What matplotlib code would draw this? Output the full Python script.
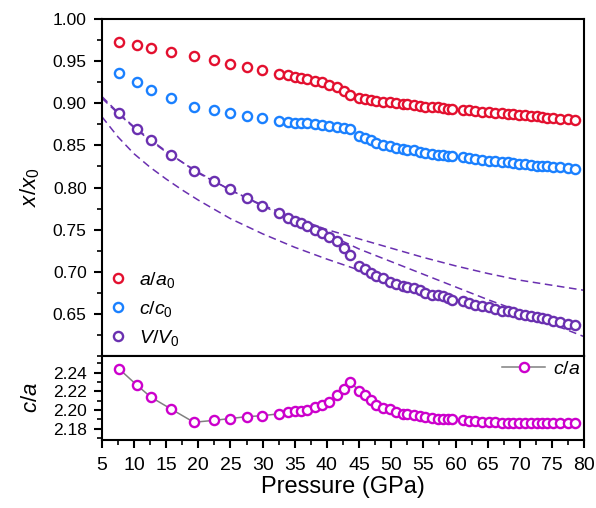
import matplotlib
matplotlib.use("Agg")
import matplotlib.pyplot as plt
from matplotlib.ticker import MultipleLocator, FixedLocator

plt.rcParams['font.family'] = ['Liberation Sans', 'DejaVu Sans']
plt.rcParams['mathtext.fontset'] = 'custom'
plt.rcParams['mathtext.rm'] = 'Liberation Sans'
plt.rcParams['mathtext.it'] = 'Liberation Sans:italic'

# pressure points (GPa)
pressure = [7.7, 10.4, 12.6, 15.8, 19.3, 22.4, 25.0, 27.5, 29.9,
            32.5, 33.9, 35.0, 35.9, 36.9, 38.2, 39.3, 40.4, 41.6, 42.6, 43.6,
            45.0, 45.9, 46.8, 47.7, 48.8, 49.8, 50.8, 51.8, 52.4, 53.5, 54.4, 55.3,
            56.3, 57.2, 58.0, 58.8, 59.5,
            61.2, 62.1, 63.1, 64.1, 65.2, 66.2, 67.2, 68.1, 69.0, 69.9, 70.8,
            71.8, 72.6, 73.4, 74.2, 75.2, 76.3, 77.5, 78.6]

a_ratio = [0.973, 0.969, 0.966, 0.961, 0.956, 0.951, 0.947, 0.943, 0.939,
           0.935, 0.933, 0.931, 0.930, 0.929, 0.927, 0.925, 0.922, 0.919, 0.915, 0.910,
           0.906, 0.905, 0.904, 0.903, 0.902, 0.901, 0.900, 0.899, 0.899, 0.898, 0.897,
           0.896, 0.8955, 0.895, 0.894, 0.8935, 0.893,
           0.892, 0.8915, 0.891, 0.890, 0.8895, 0.889, 0.888, 0.8875, 0.887, 0.8865,
           0.886, 0.885, 0.8845, 0.884, 0.883, 0.882, 0.8815, 0.881, 0.880]

c_ratio = [0.936, 0.925, 0.916, 0.906, 0.896, 0.892, 0.888, 0.885, 0.882,
           0.879, 0.878, 0.877, 0.877, 0.876, 0.875, 0.874, 0.873, 0.872, 0.871, 0.869,
           0.861, 0.859, 0.856, 0.853, 0.851, 0.849, 0.847, 0.846, 0.845, 0.844, 0.842,
           0.841, 0.840, 0.839, 0.838, 0.837, 0.837,
           0.836, 0.835, 0.834, 0.833, 0.832, 0.831, 0.830, 0.830, 0.829, 0.828,
           0.828, 0.827, 0.826, 0.826, 0.825, 0.824, 0.824, 0.823, 0.822]

v_ratio = [0.888, 0.869, 0.856, 0.839, 0.820, 0.808, 0.798, 0.787, 0.778,
           0.770, 0.764, 0.760, 0.758, 0.754, 0.750, 0.746, 0.741, 0.736, 0.728, 0.720,
           0.707, 0.703, 0.699, 0.695, 0.692, 0.688, 0.685, 0.683, 0.682, 0.681, 0.678,
           0.675, 0.673, 0.672, 0.671, 0.669, 0.667,
           0.665, 0.663, 0.661, 0.659, 0.658, 0.656, 0.654, 0.653, 0.652, 0.650,
           0.649, 0.647, 0.646, 0.645, 0.644, 0.642, 0.640, 0.638, 0.637]

c_over_a = [2.244, 2.227, 2.214, 2.201, 2.187, 2.189, 2.191, 2.193, 2.194,
            2.196, 2.198, 2.199, 2.199, 2.200, 2.203, 2.206, 2.209, 2.216, 2.223, 2.230,
            2.221, 2.216, 2.211, 2.206, 2.202, 2.201, 2.198, 2.196, 2.196, 2.195, 2.194,
            2.193, 2.192, 2.191, 2.190, 2.190, 2.190,
            2.189, 2.188, 2.188, 2.187, 2.187, 2.187, 2.186, 2.186, 2.186, 2.186,
            2.186, 2.186, 2.186, 2.186, 2.186, 2.186, 2.186, 2.186, 2.186]

# dashed EOS curves
fit_p = [5, 7.5, 10, 12.5, 15, 17.5, 20, 25, 30, 35, 40, 45, 50, 55, 60, 65, 70, 75, 80]
fit_phase1 = [0.908, 0.889, 0.872, 0.857, 0.843, 0.830, 0.817, 0.797, 0.779, 0.764,
              0.750, 0.739, 0.728, 0.717, 0.707, 0.698, 0.690, 0.684, 0.678]
fit_phase2 = [0.884, 0.860, 0.840, 0.824, 0.810, 0.797, 0.785, 0.763, 0.745, 0.729,
              0.715, 0.702, 0.689, 0.677, 0.667, 0.658, 0.650, 0.643, 0.636]
fit_all = [0.906, 0.888, 0.871, 0.856, 0.842, 0.830, 0.818, 0.797, 0.778, 0.761,
           0.745, 0.727, 0.712, 0.697, 0.682, 0.667, 0.653, 0.638, 0.623]

red = '#e3102f'
blue = '#1a80ff'
purple = '#6a30b0'
magenta = '#cc00cc'

fig = plt.figure(figsize=(5.96, 5.08), dpi=100)
ax1 = fig.add_axes([0.171, 0.2992, 0.809, 0.6634])
ax2 = fig.add_axes([0.171, 0.1339, 0.809, 0.1653], sharex=ax1)

mk = dict(marker='o', ms=6.6, mew=1.7, mfc='white', ls='none')
for f in (fit_phase1, fit_phase2, fit_all):
    ax1.plot(fit_p, f, ls=(0, (5, 3)), color=purple, lw=1.1, zorder=1)
ax1.plot(pressure, a_ratio, mec=red, label=r'$a/a_0$', zorder=3, **mk)
ax1.plot(pressure, c_ratio, mec=blue, label=r'$c/c_0$', zorder=3, **mk)
ax1.plot(pressure, v_ratio, mec=purple, label=r'$V/V_0$', zorder=3, **mk)

ax1.set_xlim(5, 80)
ax1.set_ylim(0.60, 1.00)
ax1.yaxis.set_major_locator(FixedLocator([0.65, 0.70, 0.75, 0.80, 0.85, 0.90, 0.95, 1.00]))
ax1.yaxis.set_minor_locator(MultipleLocator(0.025))
ax1.yaxis.set_major_formatter(plt.FuncFormatter(lambda v, p: '%.2f' % v))
ax1.tick_params(axis='x', which='both', bottom=False, labelbottom=False)
ax1.set_ylabel(r'$x/x_0$', fontsize=16, labelpad=8)
ax1.legend(loc='lower left', bbox_to_anchor=(-0.027, -0.027), frameon=False, fontsize=14,
           handletextpad=0.5, labelspacing=0.45, handlelength=1.2)

ax2.plot(pressure, c_over_a, color='#808080', lw=1.1, marker='o', ms=6.6, mew=1.7,
         mfc='white', mec=magenta, label=r'$c/a$')
ax2.set_ylim(2.168, 2.258)
ax2.yaxis.set_major_locator(FixedLocator([2.18, 2.20, 2.22, 2.24]))
ax2.yaxis.set_minor_locator(MultipleLocator(0.01))
ax2.yaxis.set_major_formatter(plt.FuncFormatter(lambda v, p: '%.2f' % v))
ax2.xaxis.set_major_locator(MultipleLocator(5))
ax2.xaxis.set_minor_locator(MultipleLocator(2.5))
ax2.set_ylabel(r'$c/a$', fontsize=16, labelpad=8)
ax2.set_xlabel('Pressure (GPa)', fontsize=17, labelpad=2)
ax2.legend(loc='upper right', frameon=False, fontsize=14, handlelength=2.2,
           handletextpad=0.4, borderpad=0.1, borderaxespad=0.1)

for ax in (ax1, ax2):
    for s in ax.spines.values():
        s.set_linewidth(1.5)
    ax.tick_params(which='major', direction='out', length=6, width=1.5, pad=5)
    ax.tick_params(which='minor', direction='out', length=3.5, width=1.2)
    ax.tick_params(axis='y', labelsize=12.5)
ax2.tick_params(axis='x', labelsize=14, pad=6)

fig.savefig('out.png', dpi=100)
